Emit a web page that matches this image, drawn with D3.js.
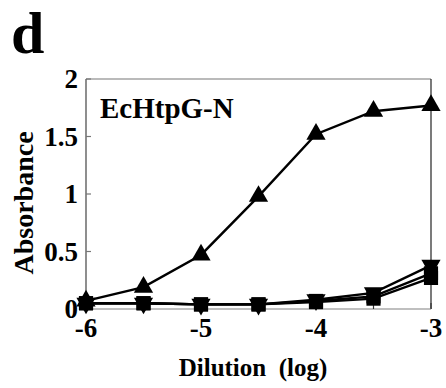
<!DOCTYPE html>
<html><head><meta charset="utf-8">
<script src="https://cdn.jsdelivr.net/npm/d3@7"></script>
<style>body{margin:0;background:#fff}svg{display:block}
text{font-family:"Liberation Serif","Times New Roman",Times,serif;font-weight:bold}</style>
</head><body>
<script>
const dilution = [-6, -5.5, -5, -4.5, -4, -3.5, -3];
const triUp   = [0.07, 0.19, 0.47, 0.98, 1.52, 1.72, 1.77];
const triDown = [0.05, 0.05, 0.04, 0.04, 0.08, 0.14, 0.38];
const squareA = [0.05, 0.05, 0.04, 0.04, 0.07, 0.11, 0.31];
const squareB = [0.05, 0.05, 0.04, 0.04, 0.06, 0.09, 0.27];
const yTicks = [0, 0.5, 1, 1.5, 2];
const yTickLabels = ["0", "0.5", "1", "1.5", "2"];
const xTicks = [-6, -5, -4, -3];
const xTickLabels = ["-6", "-5", "-4", "-3"];
const xMinorTicks = [-5.5, -4.5, -3.5];

const W = 446, H = 388;
const svg = d3.select("body").append("svg").attr("width", W).attr("height", H);
const x = d3.scaleLinear().domain([-6, -3]).range([86, 431]);
const y = d3.scaleLinear().domain([0, 2]).range([309, 79]);

const frame = "#777";
svg.append("line").attr("x1", x(-6)).attr("x2", x(-3)).attr("y1", y(2)).attr("y2", y(2)).attr("stroke", frame).attr("stroke-width", 1.2);
svg.append("line").attr("x1", x(-3)).attr("x2", x(-3)).attr("y1", y(2)).attr("y2", y(0)).attr("stroke", "#222").attr("stroke-width", 1.2);
svg.append("line").attr("x1", x(-6)).attr("x2", x(-3)).attr("y1", y(0)).attr("y2", y(0)).attr("stroke", "#aaa").attr("stroke-width", 1.5);
svg.append("line").attr("x1", x(-6)).attr("x2", x(-6)).attr("y1", y(2)).attr("y2", y(0)).attr("stroke", "#444").attr("stroke-width", 1.2);

svg.selectAll(".yt").data(yTicks).enter().append("line")
  .attr("x1", x(-6)).attr("x2", x(-6) + 5).attr("y1", d => y(d)).attr("y2", d => y(d))
  .attr("stroke", frame).attr("stroke-width", 1.2);
svg.selectAll(".xt").data(xTicks.concat(xMinorTicks)).enter().append("line")
  .attr("x1", d => x(d)).attr("x2", d => x(d)).attr("y1", y(0)).attr("y2", y(0) - 6)
  .attr("stroke", "#333").attr("stroke-width", 1.2);

svg.selectAll(".yl").data(yTicks).enter().append("text")
  .attr("x", 78).attr("y", d => y(d)).attr("dy", "0.35em")
  .attr("text-anchor", "end").attr("font-size", 27).text((d, i) => yTickLabels[i]);
svg.selectAll(".xl").data(xTicks).enter().append("text")
  .attr("x", d => x(d)).attr("y", 337)
  .attr("text-anchor", "middle").attr("font-size", 27).text((d, i) => xTickLabels[i]);

const series = [
  {v: triUp, m: "triUp"},
  {v: triDown, m: "triDown"},
  {v: squareA, m: "square"},
  {v: squareB, m: "square"}
];
const line = d3.line().x(d => x(d[0])).y(d => y(d[1]));
series.forEach(s => {
  const pts = dilution.map((d, i) => [d, s.v[i]]);
  svg.append("path").attr("d", line(pts)).attr("fill", "none")
    .attr("stroke", "#000").attr("stroke-width", 2.4);
});
series.forEach(s => {
  const pts = dilution.map((d, i) => [d, s.v[i]]);
  const sym = s.m === "square" ? d3.symbol().type(d3.symbolSquare).size(200)
                               : d3.symbol().type(d3.symbolTriangle).size(160);
  svg.selectAll(null).data(pts).enter().append("path")
    .attr("d", sym)
    .attr("transform", d => `translate(${x(d[0])},${y(d[1])})` + (s.m === "triDown" ? " rotate(180)" : ""))
    .attr("fill", "#000");
});

svg.append("text").attr("x", 11).attr("y", 53).attr("font-size", 60).text("d");
svg.append("text").attr("x", 100).attr("y", 118).attr("font-size", 29).text("EcHtpG-N");
svg.append("text").attr("transform", "translate(33,203) rotate(-90)")
  .attr("text-anchor", "middle").attr("font-size", 28).text("Absorbance");
svg.append("text").attr("x", 253).attr("y", 376).attr("text-anchor", "middle")
  .attr("font-size", 25).style("white-space", "pre").text("Dilution  (log)");
</script>
</body></html>
